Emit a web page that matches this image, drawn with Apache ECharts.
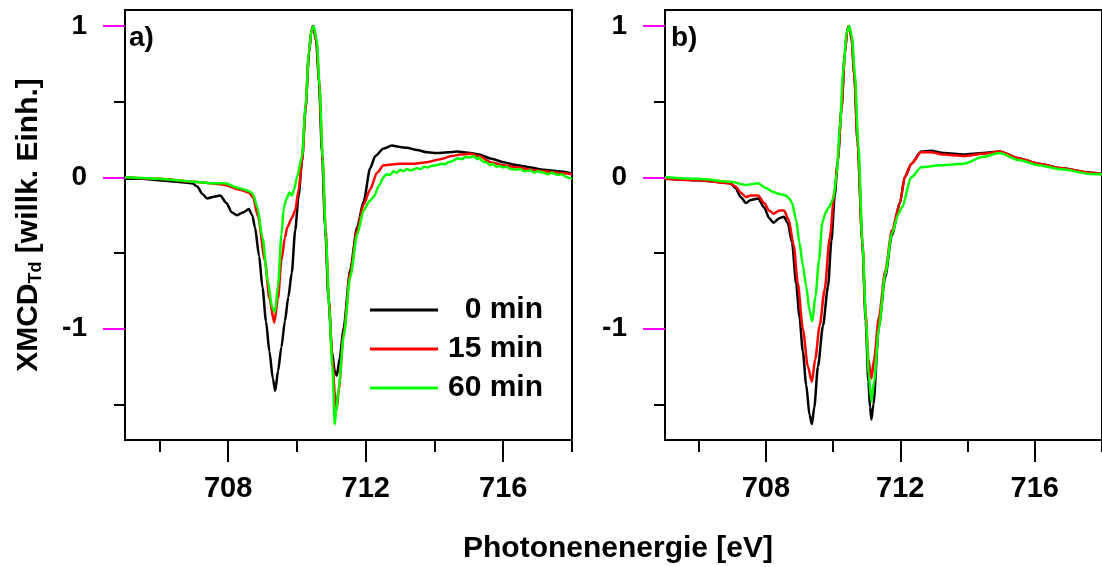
<!DOCTYPE html>
<html>
<head>
<meta charset="utf-8">
<script src="https://cdn.jsdelivr.net/npm/echarts@6/dist/echarts.min.js"></script>
<style>
  html, body { margin: 0; padding: 0; background: #fff; }
  #chart { width: 1102px; height: 567px; }
</style>
</head>
<body>
<div id="chart"></div>
<script>
// XMCD spectra [photon energy (eV), normalised XMCD]
const seriesNames = ['0 min', '15 min', '60 min'];
const seriesColors = ['#000000', '#ff0000', '#00ff00'];

const xMajorTicks = [708, 712, 716];
const xMinorTicks = [706, 710, 714, 718];
const yMajorTicks = [-1, 0, 1];
const yMinorTicks = [-1.5, -0.5, 0.5];

// panel a)
const a_0min = [
  [705.0,-0.01],[705.5,-0.01],[706.0,-0.02],[706.5,-0.03],[706.95,-0.04],[707.1,-0.06],
  [707.25,-0.11],[707.39,-0.14],[707.55,-0.13],[707.77,-0.12],[707.95,-0.17],[708.1,-0.23],
  [708.26,-0.25],[708.45,-0.23],[708.6,-0.21],[708.7,-0.25],[708.78,-0.33],[708.9,-0.52],
  [709.0,-0.73],[709.1,-0.95],[709.2,-1.15],[709.3,-1.33],[709.37,-1.41],[709.45,-1.28],
  [709.55,-1.12],[709.65,-0.95],[709.75,-0.79],[709.85,-0.63],[709.95,-0.35],[710.05,-0.12],
  [710.15,0.11],[710.25,0.45],[710.35,0.82],[710.42,0.97],[710.47,1.0],[710.56,0.9],
  [710.64,0.64],[710.73,0.16],[710.82,-0.33],[710.92,-0.81],[711.02,-1.15],[711.1,-1.28],
  [711.16,-1.31],[711.24,-1.2],[711.36,-0.99],[711.55,-0.61],[711.75,-0.33],[711.94,-0.16],
  [712.13,0.06],[712.28,0.14],[712.52,0.19],[712.76,0.21],[713.0,0.2],[713.2,0.195],
  [713.49,0.18],[713.8,0.165],[714.07,0.16],[714.4,0.165],[714.66,0.17],[715.04,0.16],
  [715.3,0.15],[715.63,0.125],[716.0,0.1],[716.4,0.08],[716.8,0.065],[717.18,0.05],
  [717.6,0.04],[718.0,0.025]
];
const a_15min = [
  [705.0,0.0],[706.0,-0.01],[707.0,-0.03],[707.5,-0.04],[707.9,-0.05],[708.3,-0.08],
  [708.6,-0.1],[708.72,-0.13],[708.87,-0.26],[709.07,-0.55],[709.2,-0.8],[709.34,-0.96],
  [709.45,-0.8],[709.55,-0.55],[709.65,-0.4],[709.72,-0.33],[709.85,-0.27],[709.95,-0.22],
  [710.05,-0.08],[710.15,0.11],[710.25,0.45],[710.35,0.82],[710.42,0.97],[710.48,1.0],
  [710.57,0.9],[710.65,0.62],[710.74,0.16],[710.83,-0.33],[710.93,-0.81],[711.03,-1.2],
  [711.1,-1.42],[711.16,-1.53],[711.22,-1.4],[711.36,-1.03],[711.55,-0.63],[711.75,-0.35],
  [711.94,-0.18],[712.13,-0.08],[712.33,0.03],[712.52,0.08],[713.0,0.09],[713.4,0.09],
  [713.78,0.1],[714.17,0.12],[714.5,0.14],[714.75,0.15],[715.04,0.155],[715.3,0.14],
  [715.63,0.1],[716.0,0.08],[716.4,0.066],[716.8,0.05],[717.18,0.04],[717.6,0.03],[718.0,0.02]
];
const a_60min = [
  [705.0,0.0],[705.5,-0.005],[706.0,-0.01],[706.5,-0.02],[707.0,-0.03],[707.5,-0.04],
  [707.9,-0.04],[708.3,-0.07],[708.6,-0.09],[708.72,-0.11],[708.85,-0.2],[709.0,-0.4],
  [709.15,-0.68],[709.28,-0.86],[709.36,-0.89],[709.45,-0.72],[709.55,-0.38],[709.62,-0.2],
  [709.7,-0.14],[709.78,-0.1],[709.85,-0.12],[709.92,-0.08],[710.0,0.0],[710.15,0.14],
  [710.25,0.47],[710.35,0.83],[710.42,0.97],[710.49,1.0],[710.58,0.9],[710.66,0.6],
  [710.75,0.12],[710.84,-0.38],[710.94,-0.86],[711.03,-1.25],[711.1,-1.63],[711.14,-1.55],
  [711.22,-1.38],[711.36,-1.05],[711.55,-0.66],[711.75,-0.38],[711.94,-0.22],[712.1,-0.16],
  [712.23,-0.13],[712.4,-0.05],[712.52,0.0],[712.6,0.02],[712.7,0.015],[712.81,0.04],
  [712.9,0.03],[713.0,0.05],[713.1,0.04],[713.2,0.055],[713.3,0.045],[713.49,0.06],
  [713.6,0.055],[713.7,0.07],[713.8,0.065],[713.9,0.075],[714.07,0.08],[714.2,0.09],
  [714.3,0.085],[714.4,0.1],[714.5,0.105],[714.66,0.125],[714.8,0.12],[714.9,0.135],
  [715.0,0.13],[715.14,0.14],[715.25,0.12],[715.3,0.13],[715.4,0.105],[715.5,0.1],
  [715.63,0.08],[715.7,0.09],[715.8,0.07],[715.9,0.075],[716.0,0.065],[716.1,0.07],
  [716.2,0.055],[716.4,0.05],[716.5,0.055],[716.6,0.04],[716.8,0.045],[716.9,0.03],
  [717.0,0.04],[717.18,0.03],[717.3,0.02],[717.4,0.03],[717.6,0.015],[717.7,0.02],
  [717.85,0.0],[718.0,-0.01]
];

// panel b)
const b_0min = [
  [705.0,-0.01],[705.5,-0.015],[706.0,-0.02],[706.5,-0.03],[706.94,-0.04],[707.1,-0.07],
  [707.25,-0.13],[707.41,-0.17],[707.55,-0.15],[707.77,-0.14],[707.95,-0.2],[708.1,-0.27],
  [708.23,-0.3],[708.4,-0.27],[708.54,-0.26],[708.65,-0.3],[708.78,-0.43],[708.9,-0.7],
  [709.0,-0.92],[709.1,-1.15],[709.2,-1.37],[709.3,-1.57],[709.37,-1.63],[709.44,-1.52],
  [709.55,-1.25],[709.7,-0.98],[709.85,-0.72],[709.95,-0.42],[710.05,-0.12],[710.14,0.11],
  [710.25,0.45],[710.35,0.82],[710.42,0.97],[710.47,1.0],[710.55,0.92],[710.63,0.68],
  [710.73,0.23],[710.87,-0.43],[710.97,-0.95],[711.05,-1.35],[711.1,-1.52],[711.14,-1.6],
  [711.2,-1.5],[711.36,-0.99],[711.55,-0.66],[711.75,-0.38],[711.99,-0.17],[712.13,0.0],
  [712.33,0.09],[712.62,0.17],[712.91,0.175],[713.3,0.16],[713.88,0.15],[714.46,0.16],
  [714.95,0.17],[715.53,0.125],[716.11,0.09],[716.79,0.06],[717.66,0.03],[718.0,0.02]
];
const b_15min = [
  [705.0,-0.01],[706.0,-0.02],[706.94,-0.04],[707.1,-0.06],[707.25,-0.1],[707.41,-0.13],
  [707.55,-0.12],[707.77,-0.12],[707.95,-0.17],[708.1,-0.22],[708.23,-0.24],[708.4,-0.22],
  [708.54,-0.22],[708.68,-0.28],[708.83,-0.45],[708.95,-0.7],[709.1,-1.0],[709.25,-1.25],
  [709.37,-1.35],[709.47,-1.2],[709.6,-0.98],[709.75,-0.74],[709.9,-0.4],[710.05,-0.08],
  [710.14,0.11],[710.25,0.45],[710.35,0.82],[710.42,0.97],[710.47,1.0],[710.55,0.92],
  [710.63,0.68],[710.73,0.23],[710.87,-0.43],[710.97,-0.9],[711.05,-1.2],[711.14,-1.33],
  [711.22,-1.2],[711.36,-0.93],[711.55,-0.62],[711.75,-0.35],[711.99,-0.17],[712.13,0.0],
  [712.33,0.09],[712.62,0.165],[712.91,0.165],[713.3,0.15],[713.88,0.14],[714.46,0.155],
  [714.95,0.17],[715.53,0.125],[716.11,0.09],[716.79,0.06],[717.66,0.03],[718.0,0.02]
];
const b_60min = [
  [705.0,0.0],[706.0,-0.01],[706.94,-0.03],[707.41,-0.05],[707.77,-0.04],[708.0,-0.07],
  [708.2,-0.095],[708.4,-0.11],[708.59,-0.12],[708.7,-0.14],[708.78,-0.17],[708.9,-0.28],
  [709.0,-0.43],[709.1,-0.58],[709.2,-0.72],[709.3,-0.88],[709.38,-0.95],[709.48,-0.78],
  [709.58,-0.55],[709.68,-0.3],[709.78,-0.23],[709.87,-0.2],[710.01,-0.14],[710.11,0.03],
  [710.2,0.32],[710.3,0.7],[710.4,0.95],[710.48,1.0],[710.56,0.93],[710.65,0.68],
  [710.75,0.22],[710.88,-0.45],[710.98,-0.95],[711.06,-1.3],[711.14,-1.48],[711.22,-1.35],
  [711.36,-1.0],[711.55,-0.64],[711.75,-0.37],[711.95,-0.24],[712.04,-0.2],[712.33,0.0],
  [712.62,0.066],[713.2,0.08],[713.88,0.09],[714.46,0.135],[714.95,0.16],[715.53,0.114],
  [716.11,0.08],[716.79,0.053],[717.66,0.022],[718.0,0.02]
];

const FONT = "Arial, 'Liberation Sans', sans-serif";
const X_MIN = 705, X_MAX = 718;
const Y_MIN = -1.735, Y_MAX = 1.105;

const grids = [
  { left: 125, top: 10, width: 447, height: 430 },
  { left: 665, top: 10, width: 447, height: 430 }
].map(g => Object.assign(g, { show: true, borderColor: '#000', borderWidth: 2, backgroundColor: 'transparent' }));

const labelFont = { color: '#000', fontWeight: 'bold', fontFamily: FONT };
const tickStyle = (c) => ({ color: c || '#000', width: 2 });

// per grid: axis line + labels, long ticks, short ticks (all pinned to the grid edge)
function xAxes(gridIndex) {
  const base = { type: 'value', gridIndex, min: X_MIN, max: X_MAX, position: 'bottom', offset: 0,
                 splitLine: { show: false } };
  return [
    Object.assign({}, base, {
      axisLine: { show: true, onZero: false, lineStyle: tickStyle() },
      axisTick: { show: false },
      axisLabel: Object.assign({ show: true, customValues: xMajorTicks, margin: 34, fontSize: 29 }, labelFont)
    }),
    Object.assign({}, base, {
      axisLine: { show: false, onZero: false },
      axisTick: { show: true, customValues: xMajorTicks, length: 22, lineStyle: tickStyle() },
      axisLabel: { show: false }
    }),
    Object.assign({}, base, {
      axisLine: { show: false, onZero: false },
      axisTick: { show: true, customValues: xMinorTicks, length: 12, lineStyle: tickStyle() },
      axisLabel: { show: false }
    })
  ];
}

function yAxes(gridIndex, withName) {
  const base = { type: 'value', gridIndex, min: Y_MIN, max: Y_MAX, position: 'left', offset: 0,
                 splitLine: { show: false } };
  const main = Object.assign({}, base, {
    axisLine: { show: true, onZero: false, lineStyle: tickStyle() },
    axisTick: { show: false },
    axisLabel: Object.assign({ show: true, customValues: yMajorTicks, margin: 38, fontSize: 28,
                               formatter: v => String(v) }, labelFont)
  });
  if (withName) {
    Object.assign(main, {
      name: 'XMCD{sub|Td} [willk. Einh.]',
      nameLocation: 'middle',
      nameRotate: 90,
      nameGap: 80,
      nameTextStyle: {
        color: '#000', fontSize: 30, fontWeight: 'bold', fontFamily: FONT, lineHeight: 32,
        rich: {
          sub: { fontSize: 18, fontWeight: 'bold', fontFamily: FONT, color: '#000',
                 verticalAlign: 'bottom', lineHeight: 22, padding: [10, 0, 0, 0] }
        }
      }
    });
  }
  return [
    main,
    Object.assign({}, base, {
      axisLine: { show: false, onZero: false },
      axisTick: { show: true, customValues: yMajorTicks, length: 22, lineStyle: tickStyle('#ff00ff') },
      axisLabel: { show: false }
    }),
    Object.assign({}, base, {
      axisLine: { show: false, onZero: false },
      axisTick: { show: true, customValues: yMinorTicks, length: 11, lineStyle: tickStyle() },
      axisLabel: { show: false }
    })
  ];
}

function lineSeries(name, data, color, axisIndex) {
  return {
    type: 'line', name, data,
    xAxisIndex: axisIndex, yAxisIndex: axisIndex,
    showSymbol: false, symbol: 'none',
    smooth: 0.25, smoothMonotone: 'x',
    lineStyle: { color, width: 2.5 },
    itemStyle: { color },
    animation: false, silent: true
  };
}

const panelA = [a_0min, a_15min, a_60min];
const panelB = [b_0min, b_15min, b_60min];

const series = [];
panelA.forEach((d, i) => series.push(lineSeries(seriesNames[i], d, seriesColors[i], 0)));
panelB.forEach((d, i) => series.push(lineSeries(seriesNames[i], d, seriesColors[i], 3)));

const chart = echarts.init(document.getElementById('chart'));
chart.setOption({
  animation: false,
  grid: grids,
  xAxis: [...xAxes(0), ...xAxes(1)],
  yAxis: [...yAxes(0, true), ...yAxes(1, false)],
  legend: {
    data: seriesNames,
    orient: 'vertical',
    left: 365, top: 290,
    itemWidth: 68, itemHeight: 3, itemGap: 9,
    icon: 'rect',
    selectedMode: false,
    formatter: name => '{t|' + name + '}',
    textStyle: {
      color: '#000', fontSize: 30, fontWeight: 'bold', fontFamily: FONT,
      rich: { t: { width: 100, align: 'right', fontSize: 30, fontWeight: 'bold',
                   fontFamily: FONT, color: '#000', lineHeight: 30 } }
    }
  },
  graphic: [
    { type: 'text', left: 129, top: 24,
      style: { text: 'a)', fill: '#000', font: 'bold 28px ' + FONT } },
    { type: 'text', left: 671, top: 24,
      style: { text: 'b)', fill: '#000', font: 'bold 28px ' + FONT } },
    { type: 'text', x: 618, y: 549,
      style: { text: 'Photonenenergie [eV]', fill: '#000', font: 'bold 30px ' + FONT,
               textAlign: 'center', textVerticalAlign: 'middle' } }
  ],
  series
});
</script>
</body>
</html>
